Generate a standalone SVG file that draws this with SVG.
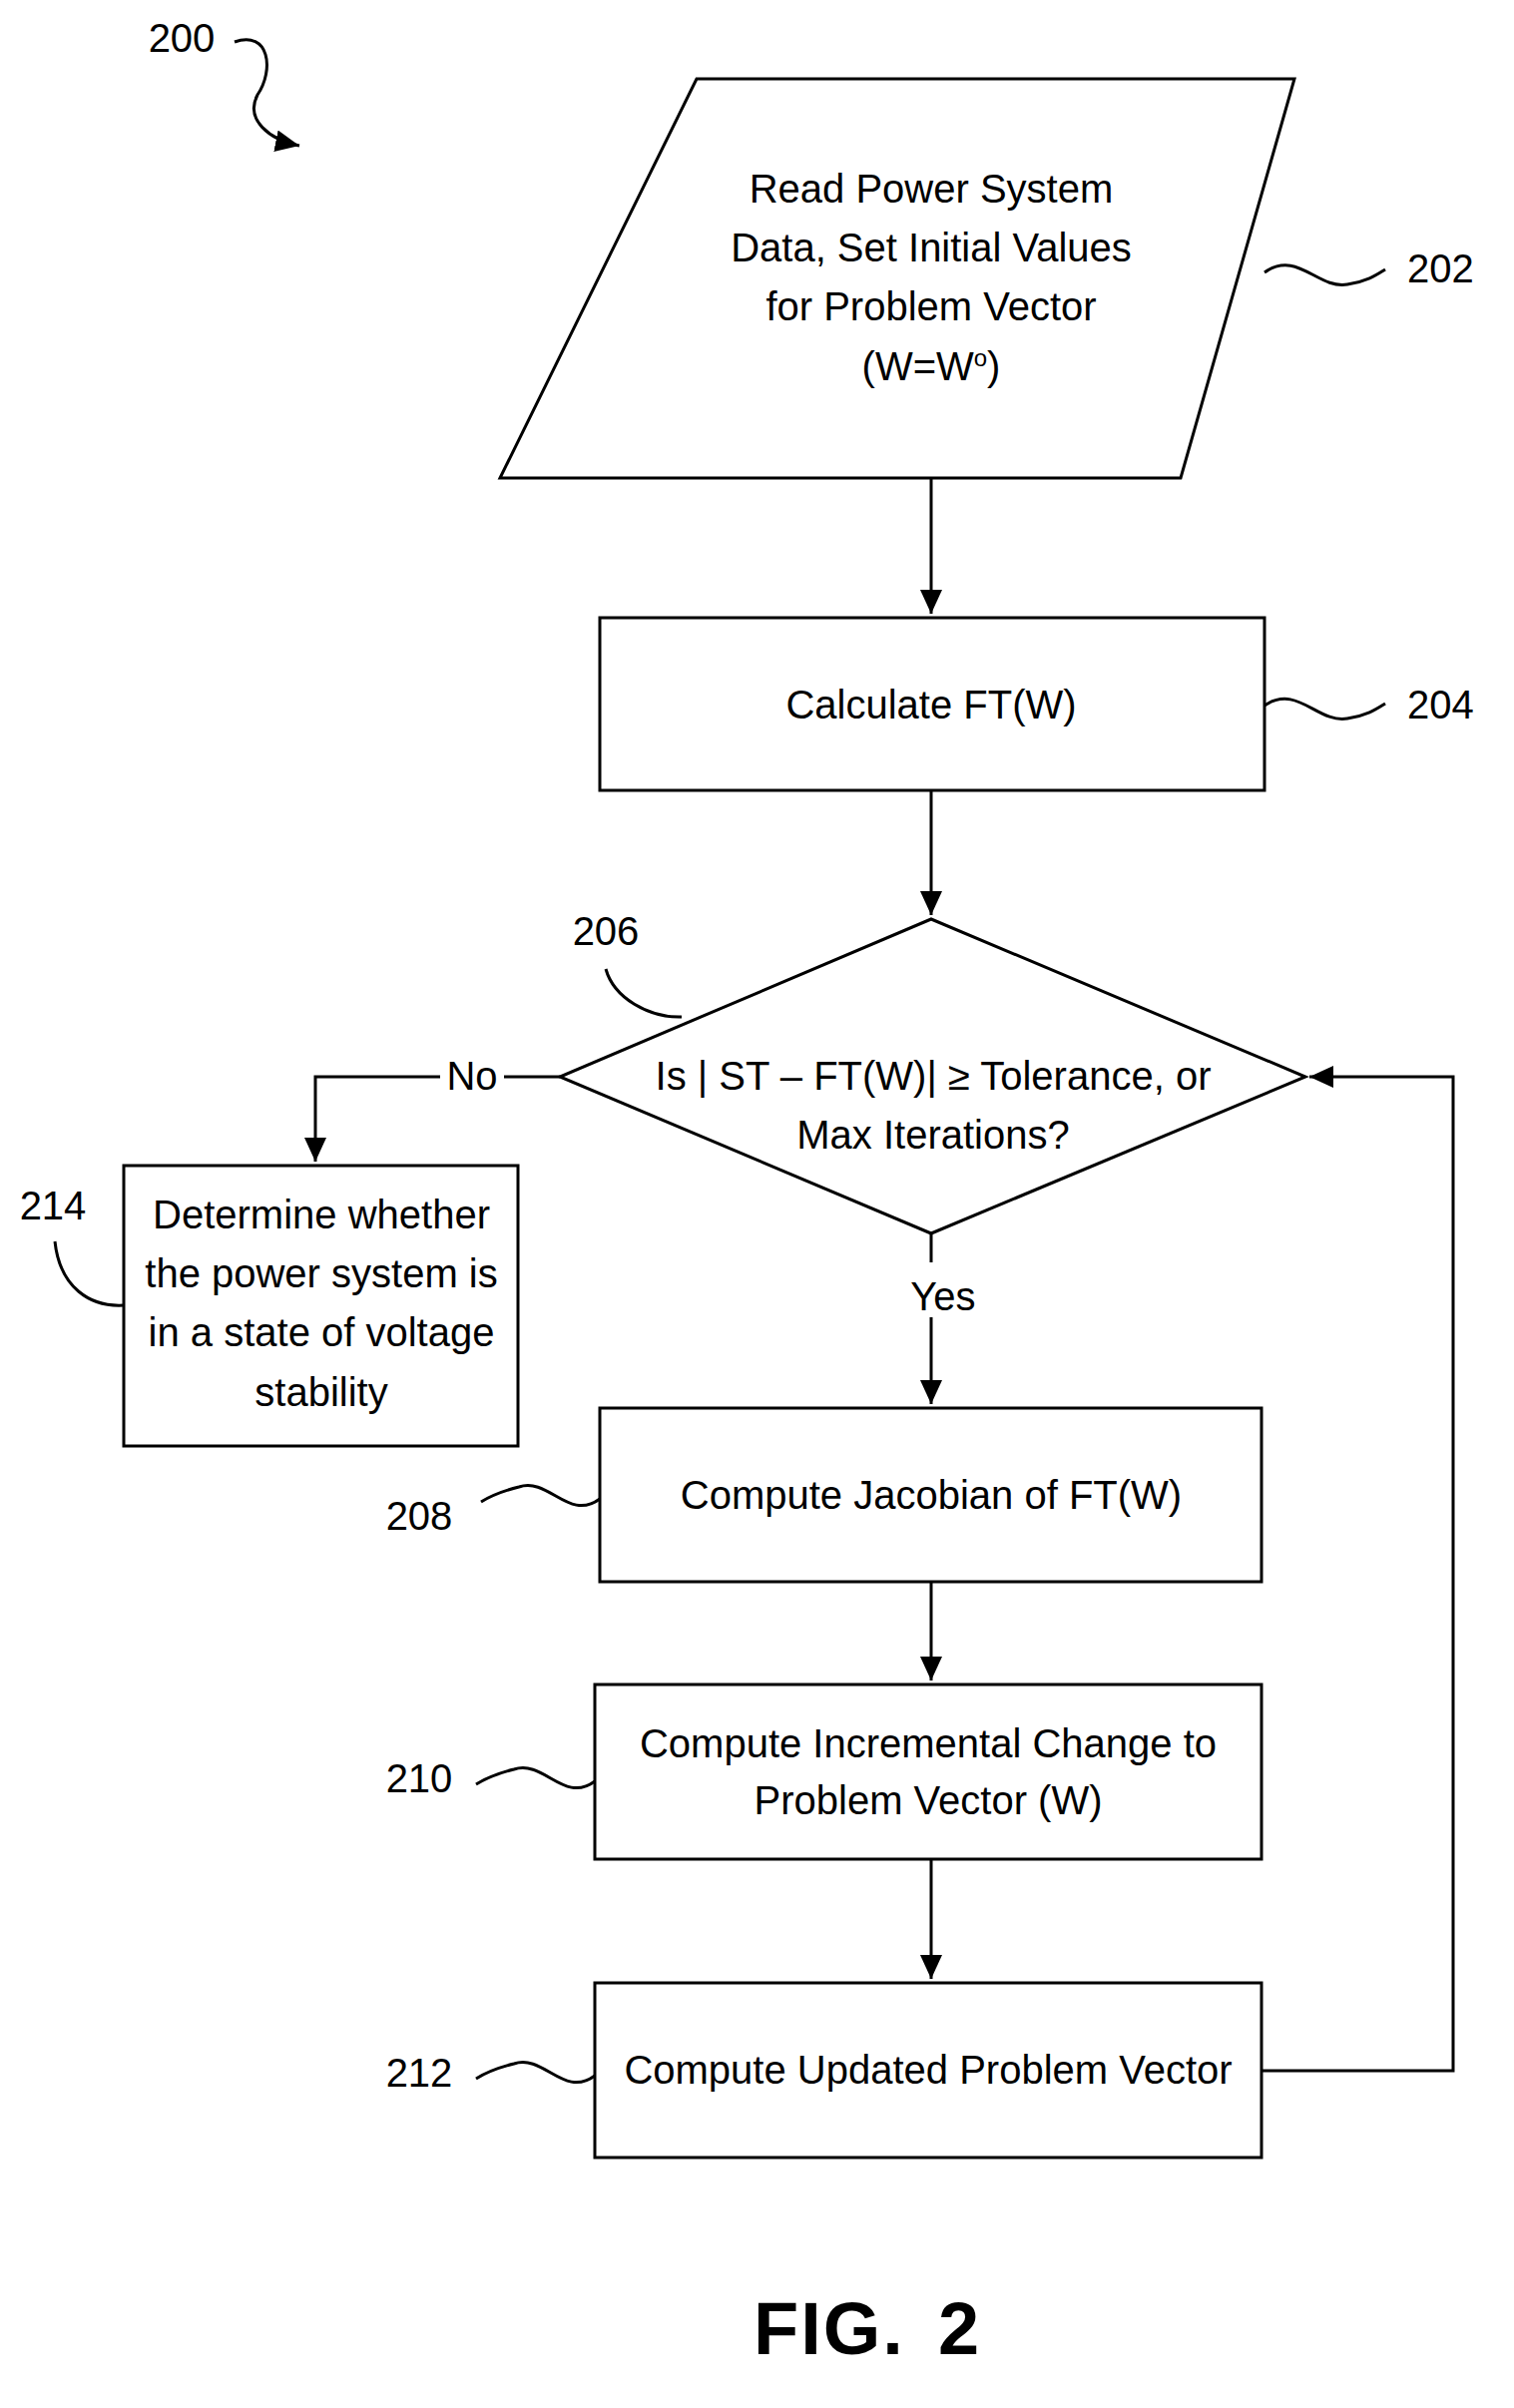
<svg xmlns="http://www.w3.org/2000/svg" width="1517" height="2413" viewBox="0 0 1517 2413">
<style>
.s{fill:#fff;stroke:#000;stroke-width:3}
.l{fill:none;stroke:#000;stroke-width:3}
text{font-family:"Liberation Sans",Arial,sans-serif;font-size:40px;fill:#000;text-anchor:middle}
.r{text-anchor:start}
.f{font-size:74px;font-weight:bold}
.sup{font-size:24px}
</style>
<defs>
<marker id="b" markerWidth="24" markerHeight="22" refX="24" refY="11" orient="auto" markerUnits="userSpaceOnUse"><path d="M0,0L24,11L0,22z"/></marker></defs>
<rect width="1517" height="2413" fill="#fff"/>
<g id="n200"><text x="182" y="52">200</text><path class="l" d="M235,42 C270,30 275,70 258,95 C245,120 270,140 300,146" marker-end="url(#b)"/></g>
<g id="n202"><polygon class="s" points="698,79 1297,79 1183,479 501,479"/>
<text x="933" y="203">Read Power System</text><text x="933" y="262">Data, Set Initial Values</text><text x="933" y="321">for Problem Vector</text><text x="933" y="381">(W=W<tspan class="sup" dy="-14">o</tspan><tspan dy="14">)</tspan></text>
<path class="l" d="M1267,273 C1300,250 1320,290 1350,285 C1370,282 1380,275 1388,270"/><text class="r" x="1410" y="283">202</text></g>
<g id="n204"><rect class="s" x="601" y="619" width="666" height="173"/><text x="933" y="720">Calculate FT(W)</text>
<path class="l" d="M1267,707 C1300,685 1320,725 1350,720 C1370,717 1380,710 1388,705"/><text class="r" x="1410" y="720">204</text></g>
<g id="n206"><polygon class="s" points="933,921 1308,1079 933,1236 561,1079"/>
<text x="935" y="1092">Is | ST – FT(W)| ≥ Tolerance, or</text><text x="935" y="1151">Max Iterations?</text>
<text x="607" y="947">206</text><path class="l" d="M607,971 C615,1000 650,1020 683,1019"/></g>
<g id="n214"><rect class="s" x="124" y="1168" width="395" height="281"/>
<text x="322" y="1231">Determine whether</text><text x="322" y="1290">the power system is</text><text x="322" y="1349">in a state of voltage</text><text x="322" y="1409">stability</text>
<text x="53" y="1222">214</text><path class="l" d="M55,1244 C60,1290 90,1310 124,1308"/></g>
<g id="n208"><rect class="s" x="601" y="1411" width="663" height="174"/><text x="933" y="1512">Compute Jacobian of FT(W)</text>
<path class="l" d="M601,1502 C570,1525 550,1480 520,1490 C500,1495 490,1500 482,1505"/><text x="420" y="1533">208</text></g>
<g id="n210"><rect class="s" x="596" y="1688" width="668" height="175"/><text x="930" y="1761">Compute Incremental Change to</text><text x="930" y="1818">Problem Vector (W)</text>
<path class="l" d="M596,1785 C565,1808 545,1763 515,1773 C495,1778 485,1783 477,1788"/><text x="420" y="1796">210</text></g>
<g id="n212"><rect class="s" x="596" y="1987" width="668" height="175"/><text x="930" y="2088">Compute Updated Problem Vector</text>
<path class="l" d="M596,2080 C565,2103 545,2058 515,2068 C495,2073 485,2078 477,2083"/><text x="420" y="2091">212</text></g>
<g id="connectors">
<path class="l" d="M933,479V615" marker-end="url(#b)"/>
<path class="l" d="M933,792V917" marker-end="url(#b)"/>
<path class="l" d="M561,1079H505M441,1079H316V1164" marker-end="url(#b)"/>
<text x="473" y="1092">No</text>
<path class="l" d="M933,1236V1265M933,1320V1407" marker-end="url(#b)"/>
<text x="945" y="1313">Yes</text>
<path class="l" d="M933,1585V1684" marker-end="url(#b)"/>
<path class="l" d="M933,1863V1983" marker-end="url(#b)"/>
<path class="l" d="M1264,2075H1456V1079H1312" marker-end="url(#b)"/>
</g>
<text class="r f" x="755" y="2359" letter-spacing="2">FIG.</text>
<text class="r f" x="940" y="2359">2</text>
</svg>
